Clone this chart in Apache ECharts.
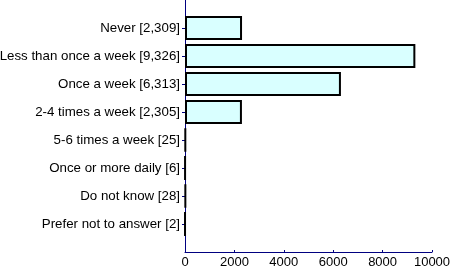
<!DOCTYPE html>
<html><head><meta charset="utf-8">
<script src="https://cdn.jsdelivr.net/npm/echarts@6/dist/echarts.min.js"></script>
<style>html,body{margin:0;padding:0;background:#fff}#c{width:450px;height:276px}</style>
</head><body><div id="c"></div>
<script>
var categories = ['Never', 'Less than once a week', 'Once a week', '2-4 times a week', '5-6 times a week', 'Once or more daily', 'Do not know', 'Prefer not to answer'];
var values = [2309, 9326, 6313, 2305, 25, 6, 28, 2];
var xTicks = [0, 2000, 4000, 6000, 8000, 10000];

function fmt(n){ return n.toLocaleString('en-US'); }
var labels = [''].concat(categories.map(function(c,i){ return c + ' [' + fmt(values[i]) + ']'; })).concat(['']);
var seriesData = [null].concat(values).concat([null]);

var chart = echarts.init(document.getElementById('c'), null, {renderer:'canvas'});
chart.setOption({
  animation: false,
  grid: {left: 185, right: 18, top: 0, bottom: 24, containLabel: false, outerBoundsMode: 'none'},
  xAxis: {
    type: 'value', min: xTicks[0], max: xTicks[xTicks.length-1], interval: 2000,
    axisLine: {show: true, lineStyle: {color: '#000080', width: 1}},
    axisTick: {show: true, inside: true, length: 2, lineStyle: {color: '#000080'}},
    splitLine: {show: false},
    axisLabel: {color: '#000', fontFamily: 'Liberation Sans, Arial', fontSize: 13, margin: 4,
      formatter: function(v){ return String(v); }}
  },
  yAxis: {
    type: 'category', data: labels, inverse: true, boundaryGap: false,
    axisLine: {show: true, lineStyle: {color: '#000080', width: 1}},
    axisTick: {show: true, length: 3, lineStyle: {color: '#000080'},
      interval: function(i){ return i > 0 && i < labels.length - 1; }},
    axisLabel: {color: '#000', fontFamily: 'Liberation Sans, Arial', fontSize: 13.3, margin: 5,
      interval: 0},
    splitLine: {show: false}
  },
  series: [{
    type: 'bar', data: seriesData, barWidth: 24, clip: false,
    itemStyle: {color: '#D9FFFF', borderColor: '#000', borderWidth: 2}
  }]
});
</script></body></html>
